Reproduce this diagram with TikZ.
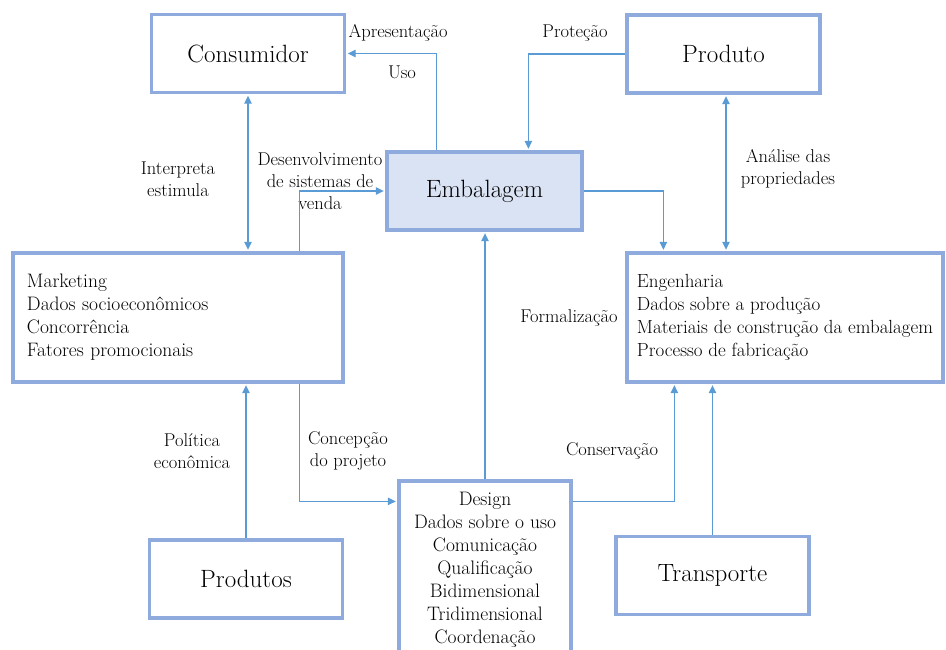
\documentclass[tikz,border=0pt]{standalone}
\usepackage{fontspec}
\usetikzlibrary{arrows.meta}

\definecolor{boxBorder}{RGB}{143,170,220}
\definecolor{boxFill}{RGB}{218,227,243}
\definecolor{lineBlue}{RGB}{91,155,213}

\begin{document}
\begin{tikzpicture}
[x=1pt,y=-1pt,
  nodeDecorate/.style={shape=rectangle,draw=boxBorder,line width=3.2pt,
    inner sep=0pt,minimum width=193pt,minimum height=78pt,
    font=\fontsize{25pt}{30pt}\selectfont},%
  listDecorate/.style={shape=rectangle,draw=boxBorder,line width=3.2pt,
    inner ysep=0pt,font=\fontsize{19.5pt}{23pt}\selectfont},%
  labelDecorate/.style={align=center,inner sep=0pt,
    font=\fontsize{18.5pt}{22pt}\selectfont}]
\useasboundingbox (0,0) rectangle (946,650);
%% nodes or vertices
\foreach \nodename/\x/\y in {
  Consumidor/248/53.5, Produto/723.5/54, Produtos/246/579, Transporte/712.5/575.5}
{
  \node (\nodename) at (\x,\y) [nodeDecorate] {\nodename};
}
\node (Embalagem) at (484.5,191) [nodeDecorate,fill=boxFill,minimum width=195pt] {Embalagem};
\node (Marketing) at (178,317.5) [listDecorate,align=left,inner xsep=14pt,
  text width=302pt,minimum height=129pt]
  {Marketing\\Dados socioeconômicos\\Concorrência\\Fatores promocionais};
\node (Engenharia) at (785,317.5) [listDecorate,align=left,inner xsep=0pt,
  minimum width=316pt,minimum height=129pt,font=\fontsize{19pt}{23pt}\selectfont]
  {Engenharia\\Dados sobre a produção\\Materiais de construção da embalagem\\Processo de fabricação};
\node (Design) at (485,570) [listDecorate,align=center,minimum width=172pt,
  minimum height=178pt]
  {Design\\Dados sobre o uso\\Comunicação\\Qualificação\\Bidimensional\\Tridimensional\\Coordenação};
%% labels of the edges
\foreach \nodename/\x/\y/\txt in {
  lApresentacao/398/33/{Apresentação}, lUso/402/72/{Uso},
  lProtecao/575/33/{Proteção}, lInterpreta/178/179/{Interpreta\\estimula},
  lVenda/320/181/{Desenvolvimento\\de sistemas de\\venda},
  lAnalise/788/169/{Análise das\\propriedades}, lFormalizacao/569/318/{Formalização},
  lPolitica/192/451/{Política\\econômica}, lConcepcao/348/451/{Concepção\\do projeto},
  lConservacao/612/451/{Conservação}}
{
  \node (\nodename) at (\x,\y) [labelDecorate] {\txt};
}
%% edges or lines
\tikzstyle{flowLine}=[draw=lineBlue,line width=1.1pt,shorten >=1.6pt,
  -{Triangle[length=8pt,width=7.5pt]}]
\tikzstyle{bothLine}=[flowLine,shorten <=1.6pt,
  {Triangle[length=8pt,width=7.5pt]}-{Triangle[length=8pt,width=7.5pt]}]
\draw[flowLine] ([xshift=51pt]Embalagem.north west) |- (Consumidor.east);
\draw[flowLine] (Produto.west) -| ([xshift=143pt]Embalagem.north west);
\draw[bothLine] (Consumidor.south) -- (Consumidor.south |- Marketing.north);
\draw[flowLine] ([xshift=-45pt]Marketing.north east) |- (Embalagem.west);
\draw[flowLine] (Embalagem.east) -| ([xshift=38pt]Engenharia.north west);
\draw[bothLine] ([xshift=2.5pt]Produto.south) -- ([xshift=2.5pt]Produto.south |- Engenharia.north);
\draw[flowLine] (Design.north) -- (Design.north |- Embalagem.south);
\draw[flowLine] ([xshift=-45pt]Marketing.south east) |- ([yshift=-22pt]Design.north west);
\draw[flowLine] (Produtos.north) -- (Produtos.north |- Marketing.south);
\draw[flowLine] ([yshift=-22pt]Design.north east) -| ([xshift=49pt]Engenharia.south west);
\draw[flowLine] (Transporte.north) -- (Transporte.north |- Engenharia.south);
\end{tikzpicture}
\end{document}
